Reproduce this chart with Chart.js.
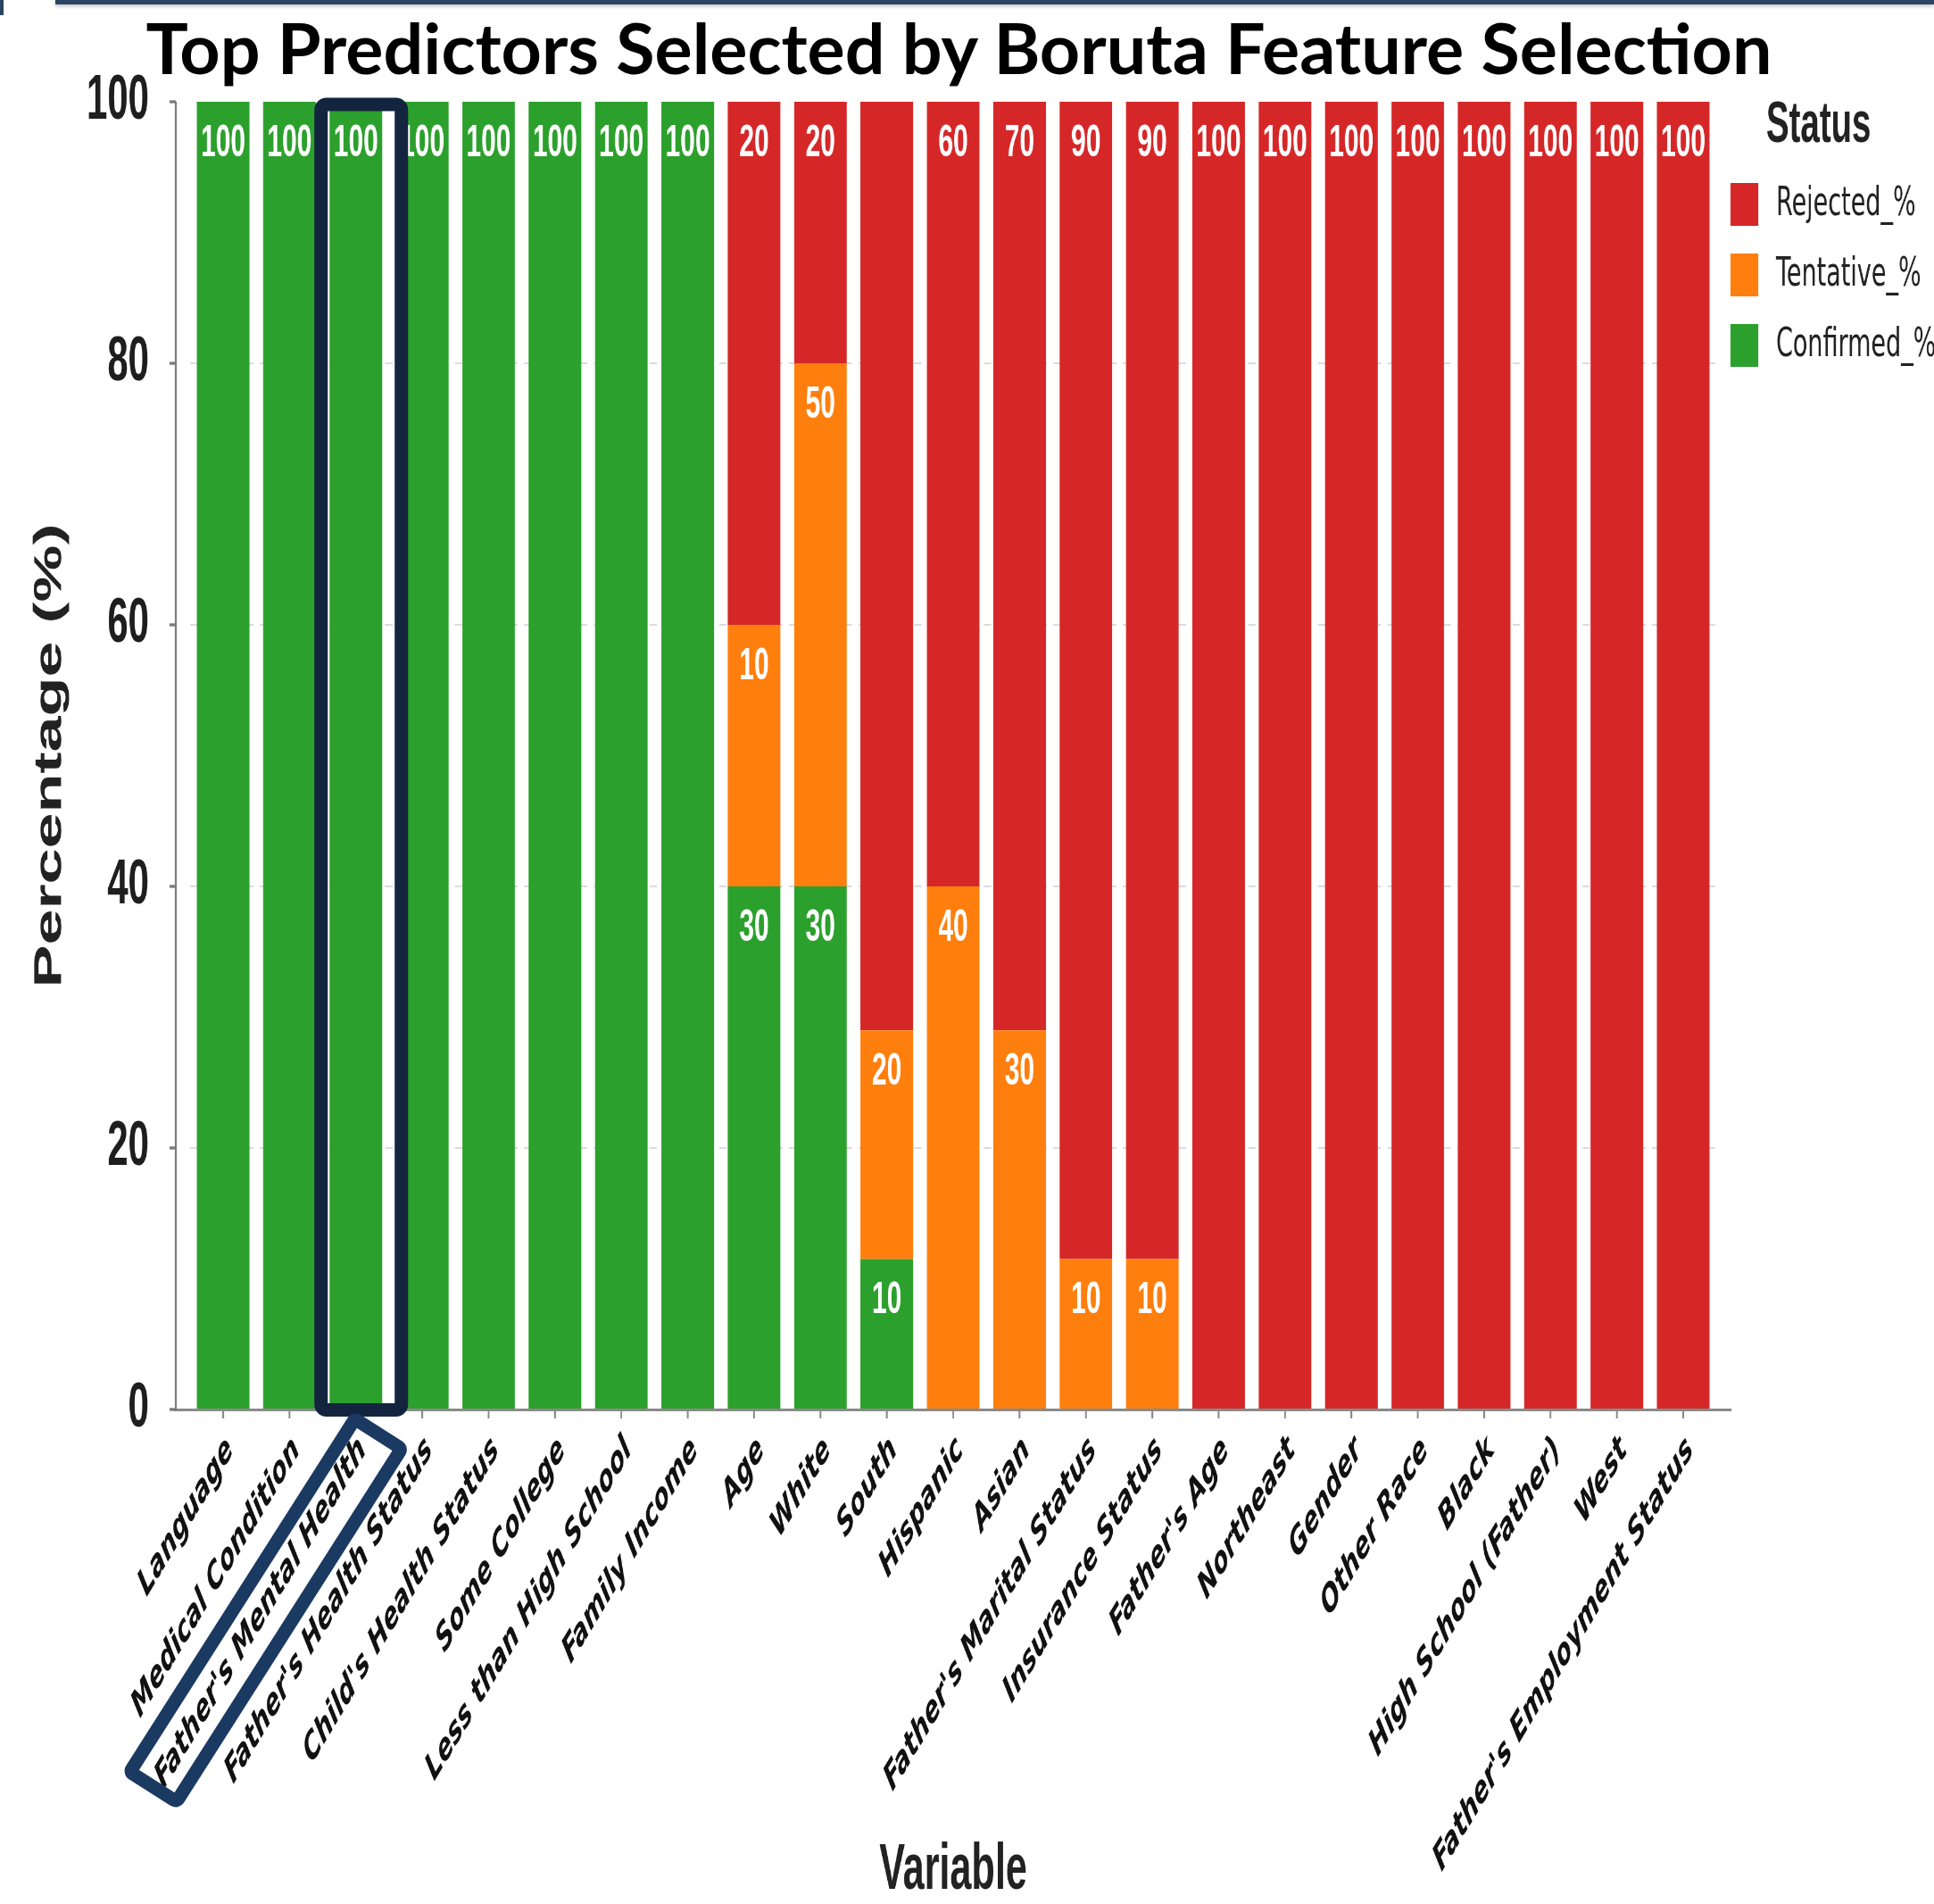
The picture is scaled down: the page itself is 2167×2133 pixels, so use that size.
<!DOCTYPE html>
<html>
<head>
<meta charset="utf-8">
<script src="https://cdn.jsdelivr.net/npm/chart.js@4.4.0/dist/chart.umd.min.js"></script>
<style>
  html, body { margin: 0; padding: 0; background: #fff; }
  body { width: 2167px; height: 2133px; overflow: hidden; position: relative; }
  #topbar { position: absolute; left: 62px; top: 0; width: 2105px; height: 5px; background: #2b4462; box-shadow: 0 2px 4px rgba(0,0,0,0.25); }
  #topmark { position: absolute; left: 0; top: 0; width: 4px; height: 17px; background: #2b4462; }
  /* the reference is squeezed horizontally, so the chart is drawn wide and scaled */
  #wrap { position: absolute; left: 0; top: 0; width: 3612px; height: 2133px; transform: scaleX(0.6); transform-origin: 0 0; }
  #overlay { position: absolute; left: 0; top: 0; pointer-events: none; }
  #title { position: absolute; left: 0; top: 13px; width: 2149px; text-align: center; font-family: Lato, sans-serif; font-weight: bold; font-size: 79px; line-height: 1; color: #000; z-index: 2; white-space: nowrap; }
</style>
</head>
<body>
<div id="topbar"></div>
<div id="topmark"></div>
<div id="wrap"><canvas id="grafico"></canvas></div>
<canvas id="overlay" width="2167" height="2133"></canvas>
<div id="title">Top Predictors Selected by Boruta Feature Selection</div>
<script>
const SQ = 0.6; // horizontal squeeze

const variables = ['Language', 'Medical Condition', "Father's Mental Health", "Father's Health Status",
    "Child's Health Status", 'Some College', 'Less than High School', 'Family Income', 'Age', 'White',
    'South', 'Hispanic', 'Asian', "Father's Marital Status", 'Insurance Status', "Father's Age",
    'Northeast', 'Gender', 'Other Race', 'Black', 'High School (Father)', 'West', "Father's Employment Status"];

// bar heights as drawn
const confirmed = [100, 100, 100, 100, 100, 100, 100, 100, 40, 40, 11.5, 0, 0, 0, 0, 0, 0, 0, 0, 0, 0, 0, 0];
const tentative = [0, 0, 0, 0, 0, 0, 0, 0, 20, 40, 17.5, 40, 29, 11.5, 11.5, 0, 0, 0, 0, 0, 0, 0, 0];
const rejected = [0, 0, 0, 0, 0, 0, 0, 0, 40, 20, 71, 60, 71, 88.5, 88.5, 100, 100, 100, 100, 100, 100, 100, 100];

// numbers printed inside the bars
const confirmedText = [100, 100, 100, 100, 100, 100, 100, 100, 30, 30, 10, null, null, null, null, null, null, null, null, null, null, null, null];
const tentativeText = [null, null, null, null, null, null, null, null, 10, 50, 20, 40, 30, 10, 10, null, null, null, null, null, null, null, null];
const rejectedText = [null, null, null, null, null, null, null, null, 20, 20, null, 60, 70, 90, 90, 100, 100, 100, 100, 100, 100, 100, 100];

const yTicks = [0, 20, 40, 60, 80, 100];
const legendItems = ['Rejected_%', 'Tentative_%', 'Confirmed_%'];

const colRojo = '#d62728';
const colNaranja = '#ff7f0e';
const colVerde = '#2ca02c';
const highlightIndex = 2;

/* etiquetas, ejes, leyenda y recuadros */
const decor = {
    id: 'decor',
    afterDatasetsDraw(chart) {
        const ctx = chart.ctx;
        const xs = chart.scales.x;
        const ys = chart.scales.y;
        const y0 = ys.getPixelForValue(0);
        const axisX = 197 / SQ;

        ctx.save();
        // valores dentro de las barras
        const textos = [confirmedText, tentativeText, rejectedText];
        ctx.font = 'bold 50px "Liberation Sans", Arial, sans-serif';
        ctx.fillStyle = '#ffffff';
        ctx.textAlign = 'center';
        ctx.textBaseline = 'middle';
        chart.data.datasets.forEach((ds, d) => {
            const meta = chart.getDatasetMeta(d);
            meta.data.forEach((bar, i) => {
                const t = textos[d][i];
                if (t === null || ds.data[i] === 0) return;
                ctx.fillText(String(t), bar.x, bar.y + 47);
            });
        });

        // eje x
        ctx.strokeStyle = '#8a8a8a';
        ctx.lineWidth = 3;
        ctx.beginPath();
        ctx.moveTo(195 / SQ, y0 + 0.5);
        ctx.lineTo(1940 / SQ, y0 + 0.5);
        ctx.stroke();
        ctx.lineWidth = 2 / SQ;
        variables.forEach((v, i) => {
            const px = xs.getPixelForValue(i);
            ctx.beginPath();
            ctx.moveTo(px, y0 + 2);
            ctx.lineTo(px, y0 + 10);
            ctx.stroke();
        });
        // eje y
        ctx.strokeStyle = '#7a7a7a';
        ctx.lineWidth = 2 / SQ;
        ctx.beginPath();
        ctx.moveTo(axisX, ys.getPixelForValue(100));
        ctx.lineTo(axisX, y0 + 1);
        ctx.stroke();
        yTicks.forEach(v => {
            const py = ys.getPixelForValue(v);
            ctx.beginPath();
            ctx.moveTo(axisX - 7 / SQ, py);
            ctx.lineTo(axisX, py);
            ctx.stroke();
        });

        // leyenda
        ctx.textAlign = 'left';
        ctx.fillStyle = '#222';
        ctx.font = 'bold 64px "Liberation Sans", Arial, sans-serif';
        ctx.fillText('Status', 1979 / SQ, 141);
        const legendCols = [colRojo, colNaranja, colVerde];
        ctx.font = '45px "DejaVu Sans", sans-serif';
        legendItems.forEach((txt, k) => {
            const cy = 229 + k * 79;
            ctx.fillStyle = legendCols[k];
            ctx.fillRect(1939 / SQ, cy - 24, 31 / SQ, 48);
            ctx.fillStyle = '#222';
            ctx.fillText(txt, 1990 / SQ, cy);
        });
        ctx.restore();
    },
    afterDraw(chart) {
        const ov = document.getElementById('overlay').getContext('2d');
        ov.clearRect(0, 0, 2167, 2133);
        const xs = chart.scales.x;
        const ys = chart.scales.y;
        const xc = xs.getPixelForValue(highlightIndex) * SQ;
        const yTop = ys.getPixelForValue(100);
        const y0 = ys.getPixelForValue(0);

        // recuadro de la barra
        ov.strokeStyle = '#13243f';
        ov.lineWidth = 15;
        ov.lineJoin = 'round';
        ov.beginPath();
        ov.roundRect(xc - 39, yTop + 3, 90, y0 - yTop - 2.5, 6);
        ov.stroke();

        // recuadro de la etiqueta
        ov.save();
        ov.strokeStyle = '#1b3a62';
        ov.translate(xc - 101, y0 + 225);
        ov.rotate(-57.5 * Math.PI / 180);
        ov.beginPath();
        ov.roundRect(-234.5, -31, 469, 62, 4);
        ov.stroke();
        ov.restore();
    }
};

new Chart(document.getElementById('grafico'), {
    type: 'bar',
    data: {
        labels: variables,
        datasets: [
            { label: 'Confirmed_%', data: confirmed, backgroundColor: colVerde },
            { label: 'Tentative_%', data: tentative, backgroundColor: colNaranja },
            { label: 'Rejected_%', data: rejected, backgroundColor: colRojo }
        ]
    },
    options: {
        responsive: true,
        maintainAspectRatio: false,
        animation: false,
        datasets: {
            bar: { barPercentage: 0.793, categoryPercentage: 1, borderWidth: 0 }
        },
        layout: { padding: { left: 50, right: 406.7, top: 114, bottom: 0 } },
        scales: {
            x: {
                stacked: true,
                offset: true,
                grid: { display: false, drawTicks: false },
                border: { display: false },
                ticks: {
                    autoSkip: false,
                    maxRotation: 45,
                    minRotation: 45,
                    padding: 21,
                    labelOffset: 13,
                    color: '#111',
                    font: { family: '"DejaVu Sans"', size: 42, weight: 'bold', style: 'italic' }
                },
                title: {
                    display: true,
                    text: 'Variable',
                    color: '#222',
                    padding: { top: 0, bottom: 1 },
                    font: { family: '"Liberation Sans", Arial', size: 72, weight: 'bold', lineHeight: 1 }
                },
                afterFit: (scale) => { scale.height = 554; }
            },
            y: {
                stacked: true,
                min: 0,
                max: 100,
                grid: {
                    drawTicks: true,
                    tickLength: 70,
                    tickColor: 'rgba(0,0,0,0)',
                    color: (c) => (c.tick && (c.tick.value === 0 || c.tick.value === 100)) ? 'rgba(0,0,0,0)' : '#dcdcdc',
                    lineWidth: 2
                },
                border: { display: false, dash: [14, 12] },
                ticks: {
                    stepSize: 20,
                    padding: 6.4,
                    color: '#1e1e1e',
                    font: { family: '"Liberation Sans", Arial', size: 70, weight: 'bold' }
                },
                title: {
                    display: true,
                    text: 'Percentage (%)',
                    color: '#222',
                    padding: { top: 8, bottom: 0 },
                    font: { family: '"Liberation Sans", Arial', size: 72, weight: 'bold', lineHeight: 1 }
                },
                afterFit: (scale) => { scale.width = 304.7; }
            }
        },
        plugins: {
            legend: { display: false },
            tooltip: { enabled: false }
        }
    },
    plugins: [decor]
});
</script>
</body>
</html>
